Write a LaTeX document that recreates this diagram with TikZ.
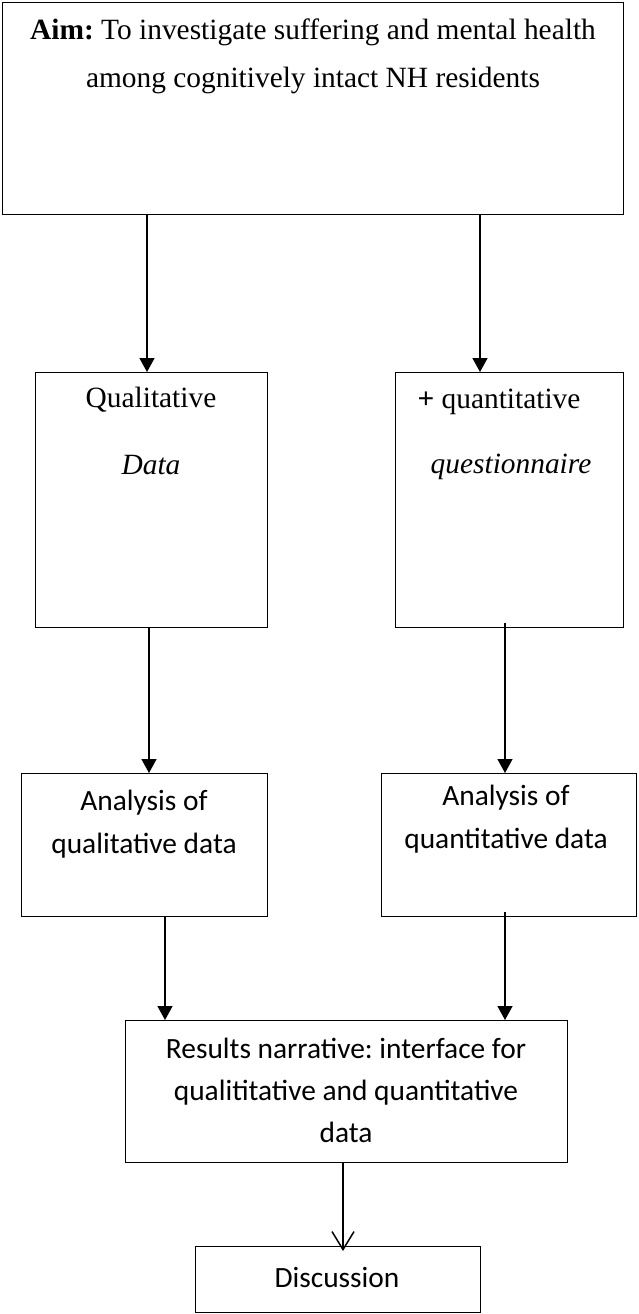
\documentclass[tikz,border=0pt]{standalone}
\usepackage{fontspec}
\setmainfont{Liberation Serif}
\newfontfamily\calib{Carlito}
\usetikzlibrary{arrows.meta}
\begin{document}
\begin{tikzpicture}[x=1pt,y=-1pt,
  frame/.style={draw=black,line width=1.3pt,inner sep=0pt,anchor=north west},
  serif/.style={inner sep=0pt,align=center,font=\fontsize{29.4}{48}\selectfont},
  sans/.style={inner sep=0pt,align=center,font=\calib\fontsize{29.4}{43}\selectfont},
  arr/.style={line width=1.5pt,-{Triangle[length=14pt,width=15pt]}},
  openarr/.style={line width=1.5pt,-{Straight Barb[length=18pt,width=22pt,line width=1.5pt]}}]
\useasboundingbox (0,0) rectangle (638,1314);

% boxes
\node[frame,minimum width=621pt,minimum height=212pt] (aim) at (2,2) {};
\node[frame,minimum width=232pt,minimum height=255pt] (qual) at (35,372) {};
\node[frame,minimum width=228pt,minimum height=255pt] (quan) at (395,372) {};
\node[frame,minimum width=246pt,minimum height=143pt] (anql) at (21,773) {};
\node[frame,minimum width=255pt,minimum height=143pt] (anqn) at (381,773) {};
\node[frame,minimum width=442pt,minimum height=142pt] (res) at (125,1020) {};
\node[frame,minimum width=285pt,minimum height=66pt] (disc) at (195,1246) {};

% texts
\node[serif] (aimtxt) at (313,56) {\textbf{Aim:}\ To investigate suffering and mental health\\among cognitively intact NH residents};
\node[serif] (qualtxt) at (151,400) {Qualitative};
\node[serif] (qualdata) at (151,465) {\textit{Data}};
\node[serif] (quantxt) at (499,402) {\textbf{+} quantitative};
\node[serif] (quanq) at (511,467) {\textit{questionnaire}};
\node[sans] (anqltxt) at (144,824) {Analysis of\\qualitative data};
\node[sans] (anqntxt) at (506,819) {Analysis of\\quantitative data};
\node[sans,font=\calib\fontsize{29.4}{42}\selectfont] (restxt) at (346,1090) {Results narrative:\ interface for\\qualititative and quantitative\\data};
\node[sans] (disctxt) at (337,1277) {Discussion};

% connectors
\draw[arr] (aim.south -| 147,0) -- (qual.north -| 147,0);
\draw[arr] (aim.south -| 480,0) -- (quan.north -| 480,0);
\draw[arr] (qual.south -| 149,0) -- (anql.north -| 149,0);
\draw[arr] ([yshift=5pt]quan.south -| 505,0) -- (anqn.north -| 505,0);
\draw[arr] (anql.south -| 165,0) -- (res.north -| 165,0);
\draw[arr] ([yshift=5pt]anqn.south -| 505,0) -- (res.north -| 505,0);
\draw[openarr] (res.south -| 343,0) -- ([yshift=-5pt]disc.north -| 343,0);
\end{tikzpicture}
\end{document}
